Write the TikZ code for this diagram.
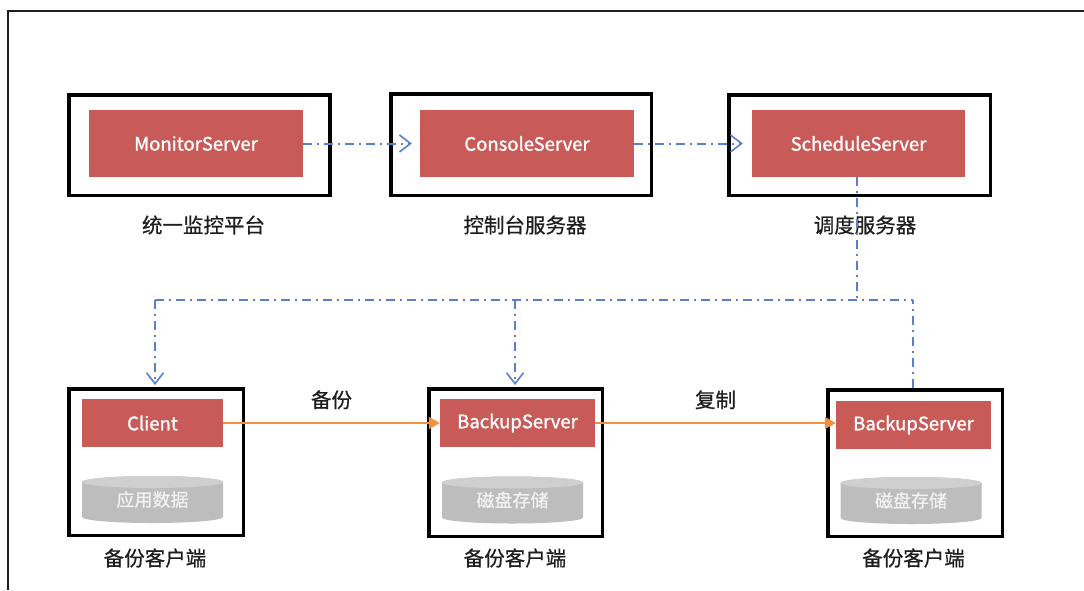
\documentclass[tikz,border=0pt]{standalone}
\usepackage{fontspec}
\setmainfont{Noto Sans CJK SC}
\newfontfamily\medfont{Noto Sans CJK SC}[FakeBold=1.3]
\newfontfamily\capfont{Noto Sans CJK SC}[FakeBold=0.6]
\usetikzlibrary{arrows.meta}
\definecolor{boxred}{HTML}{C85B57}
\definecolor{cylbody}{HTML}{BDBDBD}
\definecolor{cyltop}{HTML}{CFCFCF}
\definecolor{cyltext}{HTML}{F2F2F2}
\definecolor{ctrlblue}{HTML}{5A7FCF}
\definecolor{floworange}{HTML}{F2913F}
\definecolor{ink}{HTML}{1E1E1E}
\begin{document}
\begin{tikzpicture}[x=1pt,y=1pt,
  outerbox/.style={draw=black, line width=3.5pt, inner sep=0pt},
  redbox/.style={fill=boxred, text=white, inner sep=0pt,
    font=\medfont\fontsize{18.5}{21}\selectfont},
  cylbox/.style={fill=white, inner sep=0pt, text=cyltext,
    minimum width=141pt, minimum height=47pt,
    font=\capfont\fontsize{18}{21}\selectfont,
    path picture={
      \fill[cylbody] ([yshift=-6pt]path picture bounding box.north west)
        -- ([yshift=6pt]path picture bounding box.south west)
        arc[start angle=180, end angle=360, x radius=70.5, y radius=6]
        -- ([yshift=-6pt]path picture bounding box.north east)
        arc[start angle=0, end angle=180, x radius=70.5, y radius=6]
        -- cycle;
      \fill[cyltop] ([yshift=-6pt]path picture bounding box.north)
        ellipse[x radius=70.5, y radius=6];
    }},
  caption/.style={text=ink, inner sep=0pt, font=\capfont\fontsize{20.5}{24}\selectfont},
  ctrlline/.style={draw=ctrlblue, line width=2pt,
    dash pattern=on 9pt off 5pt on 2pt off 5pt},
  ctrlarrow/.style={ctrlline, -{Straight Barb[length=11pt,width=17pt,line width=1.6pt]}},
  flow/.style={draw=floworange, line width=1.6pt,
    -{Triangle[length=11pt,width=12pt]}},
  frameline/.style={draw=ink, line width=1.8pt}
]
\useasboundingbox (0,0) rectangle (1084,-590);
\fill[white] (0,0) rectangle (1084,-590);

% outer frame (cut by the picture edges)
\coordinate (fr) at (1084,-11);
\coordinate (fc) at (8,-11);
\coordinate (fb) at (8,-590);
\draw[frameline] (fr) -- (fc) -- (fb);

% top row
\node[outerbox, minimum width=261pt, minimum height=100.5pt] (box1) at (199.5,-145) {};
\node[outerbox, minimum width=260.5pt, minimum height=101.5pt] (box2) at (521,-144.5) {};
\node[outerbox, minimum width=261.5pt, minimum height=100.5pt] (box3) at (859.5,-145) {};
\node[redbox, minimum width=214pt, minimum height=67pt] (red1) at (196,-143.5) {MonitorServer};
\node[redbox, minimum width=214pt, minimum height=67pt] (red2) at (527,-143.5) {ConsoleServer};
\node[redbox, minimum width=213pt, minimum height=67pt] (red3) at (858.5,-143.5) {ScheduleServer};
\node[caption] (cap1) at (203.5,-225) {统一监控平台};
\node[caption] (cap2) at (525,-225) {控制台服务器};
\node[caption] (cap3) at (865,-225) {调度服务器};

% bottom row
\node[outerbox, minimum width=174.5pt, minimum height=146.5pt] (box4) at (156,-462) {};
\node[outerbox, minimum width=173.5pt, minimum height=147.5pt] (box5) at (515.5,-462.5) {};
\node[outerbox, minimum width=174.5pt, minimum height=146.5pt] (box6) at (915,-463) {};
\node[redbox, minimum width=141pt, minimum height=48pt] (red4) at (152.5,-423) {Client};
\node[redbox, minimum width=155pt, minimum height=48pt] (red5) at (517.5,-423) {BackupServer};
\node[redbox, minimum width=155pt, minimum height=48pt] (red6) at (913.5,-425) {BackupServer};
\node[cylbox] (cyl4) at (152.5,-499.5) {\raisebox{-4pt}{应用数据}};
\node[cylbox] (cyl5) at (512.5,-500) {\raisebox{-4pt}{磁盘存储}};
\node[cylbox] (cyl6) at (911,-500.5) {\raisebox{-4pt}{磁盘存储}};
\node[caption] (cap4) at (155,-558) {备份客户端};
\node[caption] (cap5) at (515,-558) {备份客户端};
\node[caption] (cap6) at (913.5,-558) {备份客户端};

% top connectors
\draw[ctrlarrow, shorten >=8pt] (red1.east) -- (red2.west);
\draw[ctrlarrow, shorten >=9pt] (red2.east) -- (red3.west);

% schedule distribution
\coordinate (hub) at (857,-300);
\coordinate (hubL) at (155,-300);
\coordinate (hubM) at (515,-300);
\coordinate (hubR) at (913,-300);
\draw[ctrlline] (red3.south -| hub) -- (hub);
\draw[ctrlline] (hubL) -- (hubR);
\draw[ctrlarrow, shorten >=2pt] (hubL) -- (hubL |- box4.north);
\draw[ctrlarrow, shorten >=2pt] (hubM) -- (hubM |- box5.north);
\draw[ctrlline] (hubR |- box6.north) -- (hubR);

% data flow
\draw[flow] (red4.east) -- (red5.west) node[midway, above=13pt, caption] (lbl1) {备份};
\draw[flow] (red5.east) -- (red6.west |- red5.east) node[midway, above=13pt, caption] (lbl2) {复制};
\end{tikzpicture}
\end{document}
